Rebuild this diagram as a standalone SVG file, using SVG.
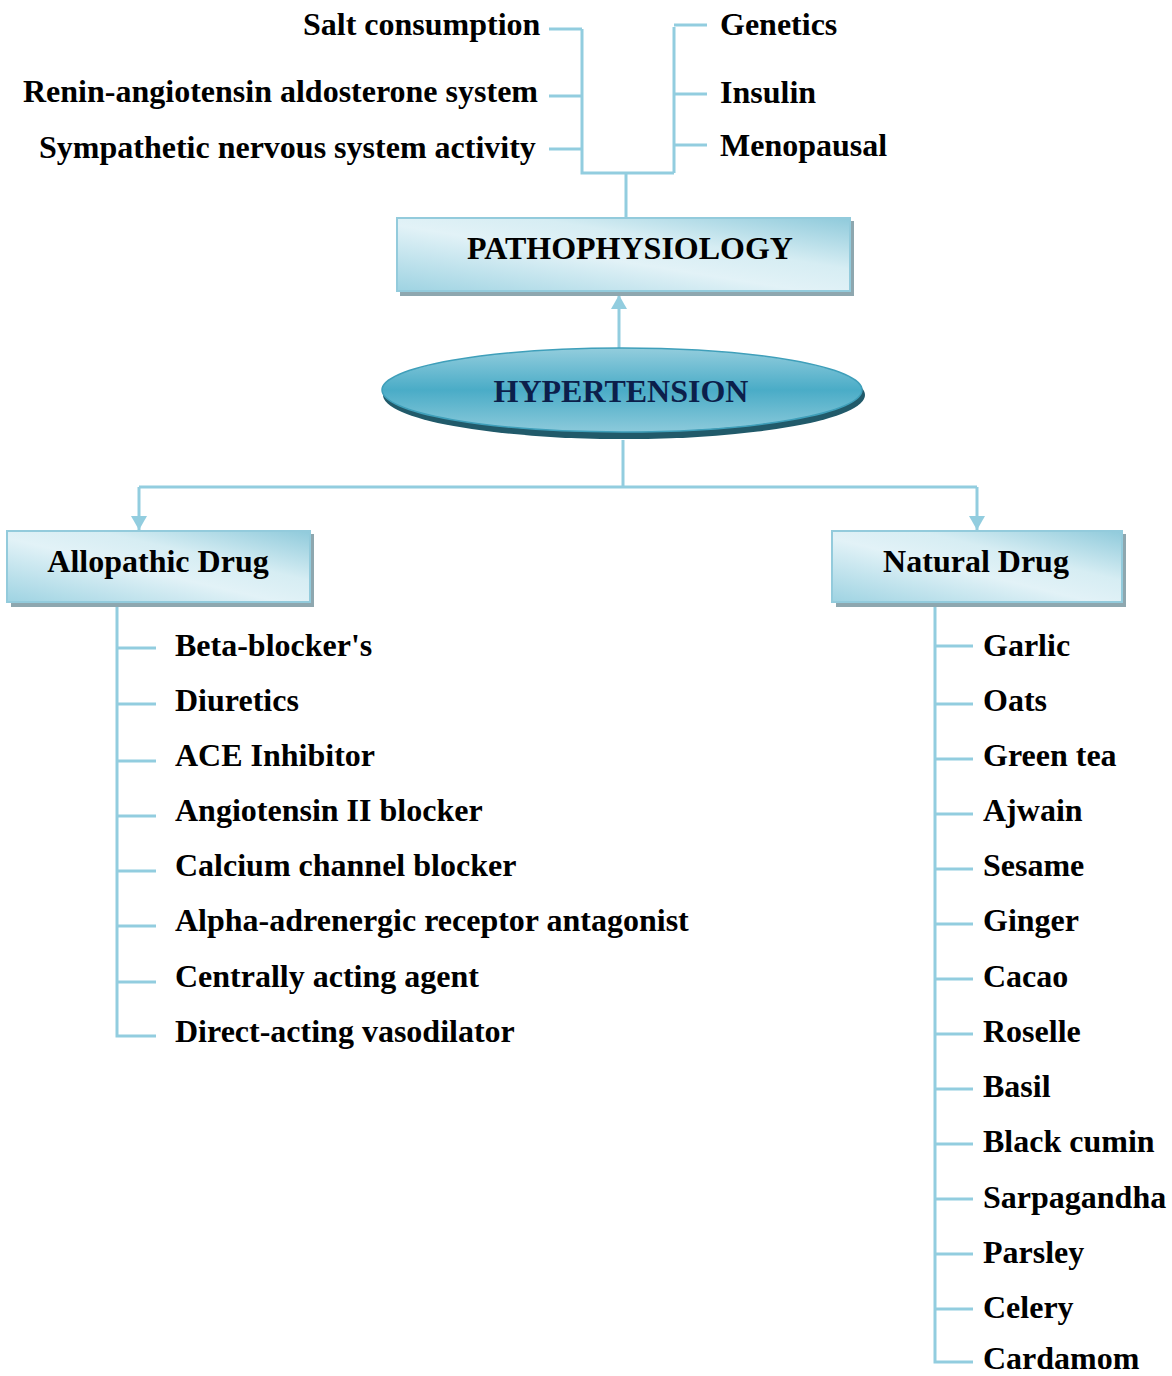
<svg xmlns="http://www.w3.org/2000/svg" width="1172" height="1376" viewBox="0 0 1172 1376">
<defs>
<linearGradient id="boxg" x1="0" y1="1" x2="1" y2="0">
<stop offset="0" stop-color="#9ed3e2"/>
<stop offset="0.45" stop-color="#e2f2f7"/>
<stop offset="0.65" stop-color="#d6edf3"/>
<stop offset="1" stop-color="#8fcadb"/>
</linearGradient>
<linearGradient id="ellg" x1="0" y1="0" x2="0" y2="1">
<stop offset="0" stop-color="#93cddd"/>
<stop offset="0.5" stop-color="#4aacc7"/>
<stop offset="1" stop-color="#8ccadb"/>
</linearGradient>
<marker id="ah" viewBox="0 0 10 10" refX="10" refY="5" markerWidth="14" markerHeight="16" orient="auto" markerUnits="userSpaceOnUse" preserveAspectRatio="none">
<path d="M0,0 L10,5 L0,10 z" fill="#92cddf"/>
</marker>
</defs>
<style>
.ln{stroke:#92cddf;stroke-width:3;fill:none}
.bx{fill:url(#boxg);stroke:#93cbdc;stroke-width:2}
.sh{fill:#8ea7af}
.t{font-family:"Liberation Serif","Times New Roman",serif;font-weight:bold;font-size:32px;fill:#000}
.c{text-anchor:middle}
</style>
<g id="connectors">
<path class="ln" d="M549,29 H582 M549,96 H582 M549,149 H582 M582,29 V173 H674 M674,27 V173 M674,25 H707 M674,94 H707 M674,145 H707 M626,173 V217"/>
<path class="ln" d="M619,348 V295" marker-end="url(#ah)"/>
<path class="ln" d="M623,440 V487 M139,487 H977"/>
<path class="ln" d="M139,487 V530" marker-end="url(#ah)"/>
<path class="ln" d="M977,487 V530" marker-end="url(#ah)"/>
<path class="ln" d="M117,604 V1036 H156 M117,648 H156 M117,704 H156 M117,761 H156 M117,816 H156 M117,871 H156 M117,926 H156 M117,982 H156"/>
<path class="ln" d="M935,606 V1362 H973 M935,646 H973 M935,704 H973 M935,759 H973 M935,814 H973 M935,869 H973 M935,924 H973 M935,979 H973 M935,1034 H973 M935,1089 H973 M935,1144 H973 M935,1199 H973 M935,1254 H973 M935,1309 H973"/>
</g>
<g id="node-risk-factors">
<text class="t" x="303" y="35">Salt consumption</text>
<text class="t" x="23" y="102">Renin-angiotensin aldosterone system</text>
<text class="t" x="39" y="158">Sympathetic nervous system activity</text>
<text class="t" x="720" y="35">Genetics</text>
<text class="t" x="720" y="103">Insulin</text>
<text class="t" x="720" y="156">Menopausal</text>
</g>
<g id="node-pathophysiology">
<rect class="sh" x="400" y="221" width="454" height="75"/>
<rect class="bx" x="397" y="218" width="453" height="73"/>
<text class="t c" x="630" y="259">PATHOPHYSIOLOGY</text>
</g>
<g id="node-hypertension">
<ellipse cx="624" cy="395" rx="241" ry="44" fill="#215a6a"/>
<ellipse cx="622" cy="390" rx="240" ry="42" fill="url(#ellg)" stroke="#3f9fba" stroke-width="1.5"/>
<text class="t c" x="621" y="402" style="fill:#0c1f4b">HYPERTENSION</text>
</g>
<g id="node-allopathic">
<rect class="sh" x="11" y="534" width="303" height="73"/>
<rect class="bx" x="7" y="531" width="303" height="71"/>
<text class="t c" x="158" y="572">Allopathic Drug</text>
</g>
<g id="node-natural">
<rect class="sh" x="836" y="534" width="290" height="73"/>
<rect class="bx" x="832" y="531" width="290" height="71"/>
<text class="t c" x="976" y="572">Natural Drug</text>
</g>
<g id="node-allopathic-list">
<text class="t" x="175" y="656">Beta-blocker's</text>
<text class="t" x="175" y="711">Diuretics</text>
<text class="t" x="175" y="766">ACE Inhibitor</text>
<text class="t" x="175" y="821">Angiotensin II blocker</text>
<text class="t" x="175" y="876">Calcium channel blocker</text>
<text class="t" x="175" y="931">Alpha-adrenergic receptor antagonist</text>
<text class="t" x="175" y="987">Centrally acting agent</text>
<text class="t" x="175" y="1042">Direct-acting vasodilator</text>
</g>
<g id="node-natural-list">
<text class="t" x="983" y="656">Garlic</text>
<text class="t" x="983" y="711">Oats</text>
<text class="t" x="983" y="766">Green tea</text>
<text class="t" x="983" y="821">Ajwain</text>
<text class="t" x="983" y="876">Sesame</text>
<text class="t" x="983" y="931">Ginger</text>
<text class="t" x="983" y="987">Cacao</text>
<text class="t" x="983" y="1042">Roselle</text>
<text class="t" x="983" y="1097">Basil</text>
<text class="t" x="983" y="1152">Black cumin</text>
<text class="t" x="983" y="1208">Sarpagandha</text>
<text class="t" x="983" y="1263">Parsley</text>
<text class="t" x="983" y="1318">Celery</text>
<text class="t" x="983" y="1369">Cardamom</text>
</g>
</svg>
